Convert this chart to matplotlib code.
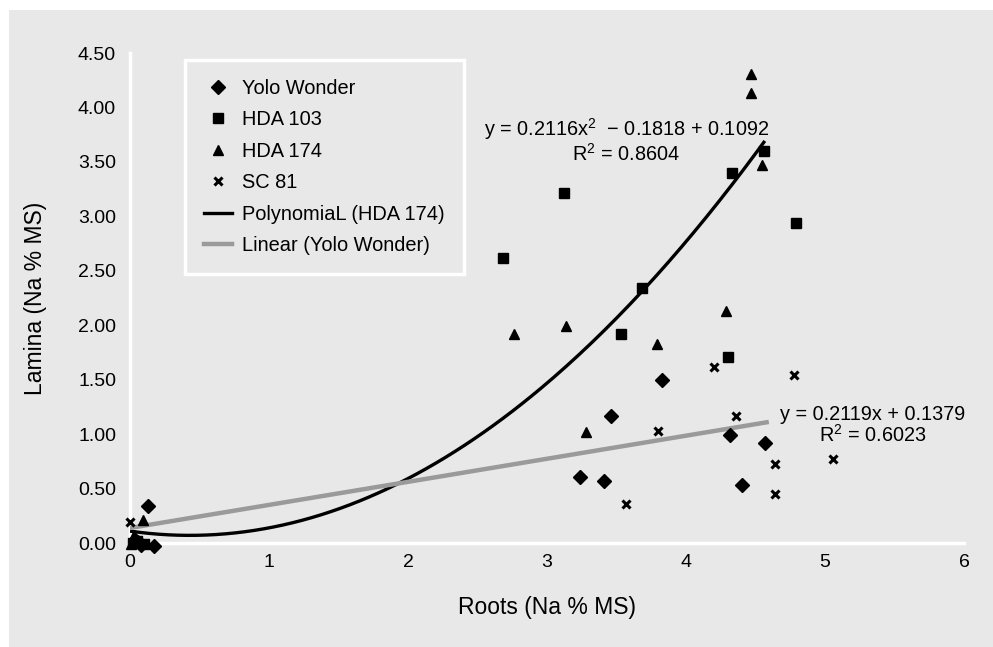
import matplotlib.pyplot as plt
import matplotlib.patches as mpatches
import numpy as np

plt.rcParams['font.family'] = ['Liberation Sans', 'DejaVu Sans']
plt.rcParams['mathtext.fontset'] = 'custom'
plt.rcParams['mathtext.rm'] = 'Liberation Sans'
plt.rcParams['mathtext.it'] = 'Liberation Sans'

# Na % MS in roots (x) and lamina (y)
yolo_x = [0.04, 0.08, 0.13, 0.17, 3.24, 3.41, 3.46, 3.83, 4.32, 4.40, 4.57]
yolo_y = [0.02, -0.02, 0.34, -0.03, 0.61, 0.57, 1.17, 1.50, 0.99, 0.53, 0.92]

hda103_x = [0.02, 0.05, 0.10, 2.68, 3.12, 3.53, 3.68, 4.30, 4.33, 4.56, 4.79]
hda103_y = [0.00, 0.02, -0.01, 2.62, 3.21, 1.92, 2.34, 1.71, 3.40, 3.60, 2.94]

hda174_x = [0.01, 0.03, 0.06, 0.09, 2.76, 3.14, 3.28, 3.79, 4.29, 4.47, 4.47, 4.55]
hda174_y = [-0.01, 0.07, 0.03, 0.21, 1.92, 1.99, 1.02, 1.83, 2.13, 4.31, 4.13, 3.47]

sc81_x = [0.00, 0.02, 0.07, 3.57, 3.80, 4.20, 4.36, 4.64, 4.64, 4.78, 5.06]
sc81_y = [0.19, 0.01, 0.00, 0.36, 1.03, 1.62, 1.17, 0.73, 0.45, 1.54, 0.77]

# trend line coefficients as printed on the chart
poly_coef = [0.2116, -0.1818, 0.1092]
lin_coef = [0.2119, 0.1379]
poly_end = 4.56
lin_end = 4.58

bg = '#e8e8e8'
fig = plt.figure(figsize=(9.93, 6.47), dpi=100, facecolor='white')
fig.patches.append(mpatches.Rectangle((9 / 993, 0), 1, 1 - 10 / 647,
                                      transform=fig.transFigure,
                                      facecolor=bg, edgecolor='none', zorder=-10))
ax = fig.add_axes([130 / 993, 1 - 543 / 647, (964 - 130) / 993, (543 - 53) / 647])
ax.set_facecolor(bg)

ms = 7
ax.plot(yolo_x, yolo_y, 'D', color='black', ms=ms, clip_on=False, label='Yolo Wonder', zorder=4)
ax.plot(hda103_x, hda103_y, 's', color='black', ms=ms - 0.5, clip_on=False, label='HDA 103', zorder=4)
ax.plot(hda174_x, hda174_y, '^', color='black', ms=ms + 0.5, clip_on=False, label='HDA 174', zorder=4)
ax.plot(sc81_x, sc81_y, 'x', color='black', ms=ms - 1, mew=2.2, clip_on=False, label='SC 81', zorder=4)

xp = np.linspace(0, poly_end, 200)
ax.plot(xp, np.polyval(poly_coef, xp), color='black', lw=2.4, label='PolynomiaL (HDA 174)', zorder=3)
xl = np.array([0, lin_end])
ax.plot(xl, np.polyval(lin_coef, xl), color='#9a9a9a', lw=3.2, label='Linear (Yolo Wonder)', zorder=3)

ax.set_xlim(0, 6)
ax.set_ylim(0, 4.5)
ax.set_xticks(range(7))
ax.set_yticks(np.arange(0, 4.51, 0.5))
ax.set_yticklabels(['%.2f' % v for v in np.arange(0, 4.51, 0.5)])
ax.tick_params(length=0, labelsize=14)
ax.tick_params(axis='y', pad=10)
ax.tick_params(axis='x', pad=8)
for s in ['top', 'right']:
    ax.spines[s].set_visible(False)
for s in ['left', 'bottom']:
    ax.spines[s].set_color('white')
    ax.spines[s].set_linewidth(2.5)

ax.set_xlabel('Roots (Na % MS)', fontsize=16.5, labelpad=18)
ax.set_ylabel('Lamina (Na % MS)', fontsize=16.5, labelpad=22)

ax.text(3.57, 3.70, 'y = 0.2116x$^2$  \u2212 0.1818 + 0.1092\nR$^2$ = 0.8604',
        ha='center', va='center', fontsize=14.3, linespacing=1.05)
ax.text(5.34, 1.08, 'y = 0.2119x + 0.1379\nR$^2$ = 0.6023',
        ha='center', va='center', fontsize=14.3, linespacing=1.05)

leg = ax.legend(loc='upper left', bbox_to_anchor=(55 / 834, 1 - 7 / 490), fontsize=14.4,
                frameon=True, fancybox=False, borderpad=0.95, labelspacing=0.62,
                handlelength=1.4, handletextpad=0.5, borderaxespad=0)
leg.get_frame().set_facecolor(bg)
leg.get_frame().set_edgecolor('white')
leg.get_frame().set_linewidth(2.5)
leg.get_frame().set_alpha(1)

fig.savefig('out.png', dpi=100, facecolor=fig.get_facecolor())
